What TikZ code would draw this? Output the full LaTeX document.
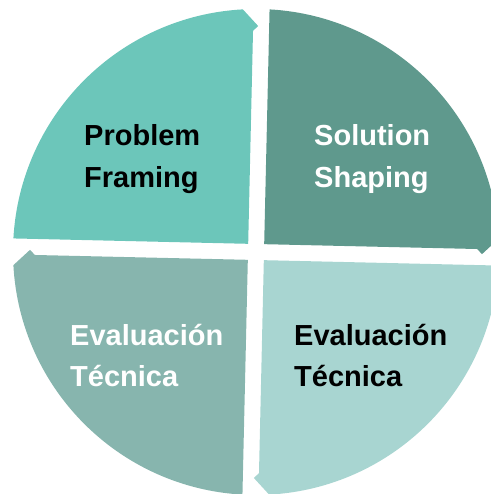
\documentclass[tikz,border=0pt]{standalone}
\usepackage{fontspec}
\setmainfont{Liberation Sans}
\definecolor{tlc}{RGB}{108,198,186}
\definecolor{trc}{RGB}{95,153,141}
\definecolor{brc}{RGB}{168,213,209}
\definecolor{blc}{RGB}{135,181,174}
\tikzset{lbl/.style={anchor=base west, inner sep=0pt, font=\fontsize{29}{42}\selectfont\bfseries}}
\begin{document}
\begin{tikzpicture}[x=1pt,y=1pt]
\useasboundingbox (0,0) rectangle (490,494);
\begin{scope}[shift={(256,242)}, rotate=-1.3]
\foreach \ang/\col in {0/tlc, -90/trc, -180/brc, -270/blc}
  \fill[\col, rotate=\ang] (-8,8) -- (178.1:243) arc[start angle=178.1, end angle=94.4, radius=243] -- (-3,226) -- (-8,221) -- cycle;
\end{scope}
\node[lbl] (pf1) at (84,348) {Problem};
\node[lbl] (pf2) at (84,306) {Framing};
\node[lbl, white] (ss1) at (314,348) {Solution};
\node[lbl, white] (ss2) at (314,306) {Shaping};
\node[lbl, white] (et1) at (70,148) {Evaluación};
\node[lbl, white] (et2) at (70,107) {Técnica};
\node[lbl] (ev1) at (294,148) {Evaluación};
\node[lbl] (ev2) at (294,107) {Técnica};
\end{tikzpicture}
\end{document}
